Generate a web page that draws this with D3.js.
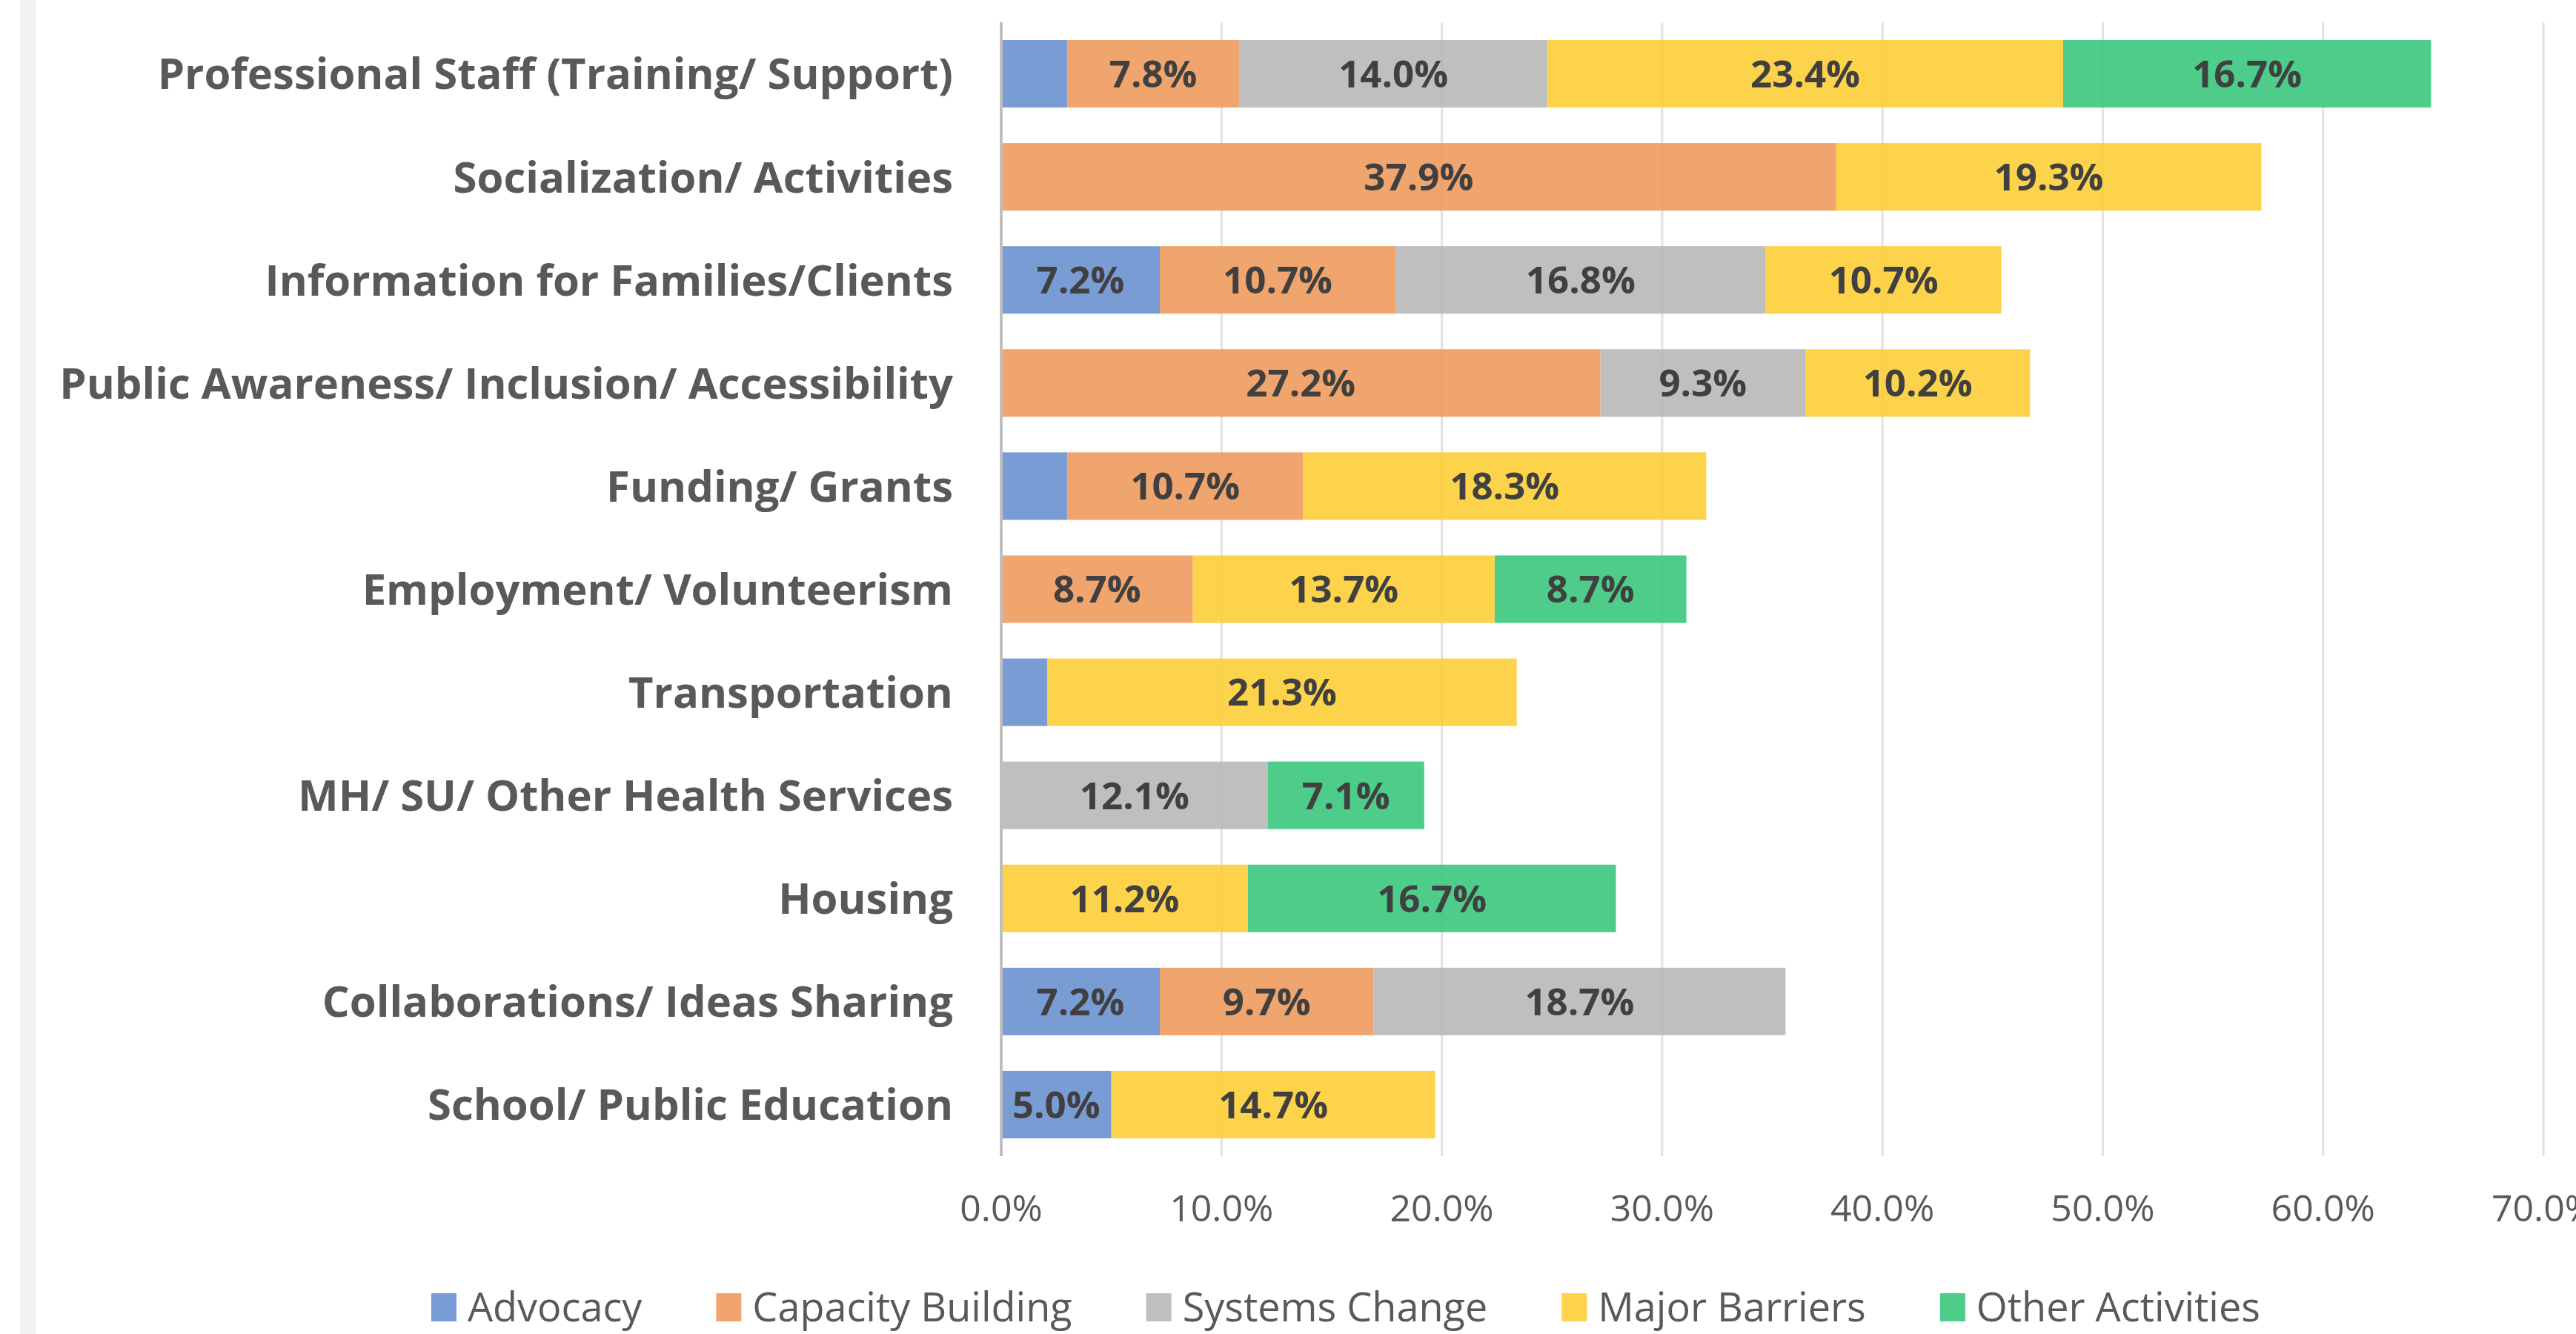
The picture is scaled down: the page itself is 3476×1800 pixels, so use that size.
<!DOCTYPE html>
<html>
<head>
<meta charset="utf-8">
<script src="https://cdn.jsdelivr.net/npm/d3@7"></script>
<style>
    html, body { margin: 0; padding: 0; background: #fff; }
    svg { display: block; }
</style>
</head>
<body>
<svg id="chart" width="3476" height="1800"></svg>
<script>
const categories = [
    "Professional Staff (Training/ Support)",
    "Socialization/ Activities",
    "Information for Families/Clients",
    "Public Awareness/ Inclusion/ Accessibility",
    "Funding/ Grants",
    "Employment/ Volunteerism",
    "Transportation",
    "MH/ SU/ Other Health Services",
    "Housing",
    "Collaborations/ Ideas Sharing",
    "School/ Public Education"
];
const seriesNames = ["Advocacy", "Capacity Building", "Systems Change", "Major Barriers", "Other Activities"];

// percentages, 0 where a row has no segment
const advocacy         = [3.0,  0,    7.2,  0,    3.0,  0,    2.1,  0,    0,    7.2,  5.0];
const capacityBuilding = [7.8,  37.9, 10.7, 27.2, 10.7, 8.7,  0,    0,    0,    9.7,  0];
const systemsChange    = [14.0, 0,    16.8, 9.3,  0,    0,    0,    12.1, 0,    18.7, 0];
const majorBarriers    = [23.4, 19.3, 10.7, 10.2, 18.3, 13.7, 21.3, 0,    11.2, 0,    14.7];
const otherActivities  = [16.7, 0,    0,    0,    0,    8.7,  0,    7.1,  16.7, 0,    0];

const xTicks = [0, 10, 20, 30, 40, 50, 60, 70];
const seriesColors = ["#6c91cf", "#ee9a5e", "#b8b8b8", "#fdce37", "#3ac67d"];

const FONT = "'Open Sans', Lato, sans-serif";
const plot = { left: 1351, right: 3432, top: 30, bottom: 1560 };

function buildRows() {
    const cols = [advocacy, capacityBuilding, systemsChange, majorBarriers, otherActivities];
    return categories.map((c, i) => {
        const row = { category: c };
        seriesNames.forEach((s, k) => { row[s] = cols[k][i]; });
        return row;
    });
}

function drawChart() {
    const svg = d3.select("#chart");
    const rows = buildRows();

    const x = d3.scaleLinear().domain([0, 70]).range([plot.left, plot.right]);
    const y = d3.scaleBand().domain(categories)
        .range([plot.top, plot.bottom])
        .paddingInner(0.345)
        .paddingOuter(0.1725);
    const color = d3.scaleOrdinal().domain(seriesNames).range(seriesColors);

    // grey strip at the left edge of the sheet
    svg.append("rect")
        .attr("x", 27).attr("y", 0)
        .attr("width", 22).attr("height", 1800)
        .attr("fill", "#f2f2f2");

    // vertical gridlines
    svg.append("g").selectAll("line")
        .data(xTicks.slice(1))
        .enter()
        .append("line")
        .attr("x1", d => x(d)).attr("x2", d => x(d))
        .attr("y1", plot.top).attr("y2", plot.bottom)
        .attr("stroke", "#e2e2e2")
        .attr("stroke-width", 3);

    const stacked = d3.stack().keys(seriesNames)(rows);

    const layer = svg.append("g").selectAll("g")
        .data(stacked)
        .enter()
        .append("g")
        .attr("fill", d => color(d.key))
        .attr("fill-opacity", 0.9);

    layer.selectAll("rect")
        .data(d => d.filter(p => p[1] - p[0] > 0))
        .enter()
        .append("rect")
        .attr("x", d => x(d[0]))
        .attr("y", d => y(d.data.category))
        .attr("width", d => x(d[1]) - x(d[0]))
        .attr("height", y.bandwidth());

    // data labels, small slivers stay unlabeled
    const labels = [];
    stacked.forEach(s => {
        s.forEach(p => {
            const v = p[1] - p[0];
            if (v >= 4) labels.push({ v: v, mid: (p[0] + p[1]) / 2, cat: p.data.category });
        });
    });
    svg.append("g").selectAll("text")
        .data(labels)
        .enter()
        .append("text")
        .attr("x", d => x(d.mid))
        .attr("y", d => y(d.cat) + y.bandwidth() / 2)
        .attr("dy", "0.36em")
        .attr("text-anchor", "middle")
        .attr("font-family", FONT)
        .attr("font-weight", "bold")
        .attr("font-size", "51px")
        .attr("fill", "#404040")
        .text(d => d.v.toFixed(1) + "%");

    // category axis line
    svg.append("line")
        .attr("x1", plot.left).attr("x2", plot.left)
        .attr("y1", plot.top).attr("y2", plot.bottom)
        .attr("stroke", "#bfbfbf")
        .attr("stroke-width", 4);

    svg.append("g").selectAll("text")
        .data(categories)
        .enter()
        .append("text")
        .attr("x", 1286)
        .attr("y", d => y(d) + y.bandwidth() / 2)
        .attr("dy", "0.36em")
        .attr("text-anchor", "end")
        .attr("font-family", FONT)
        .attr("font-weight", "bold")
        .attr("font-size", "58px")
        .attr("fill", "#595959")
        .text(d => d);

    // value axis tick labels
    svg.append("g").selectAll("text")
        .data(xTicks)
        .enter()
        .append("text")
        .attr("x", d => x(d))
        .attr("y", 1630)
        .attr("dy", "0.36em")
        .attr("text-anchor", "middle")
        .attr("font-family", FONT)
        .attr("font-size", "50px")
        .attr("fill", "#595959")
        .text(d => d3.format(".1f")(d) + "%");

    drawLegend(svg, color);
}

function drawLegend(svg, color) {
    const g = svg.append("g");
    const sw = 34, sh = 38, gap = 15, spacing = 100;
    const items = g.selectAll("g")
        .data(seriesNames)
        .enter()
        .append("g");

    items.append("rect")
        .attr("width", sw).attr("height", sh)
        .attr("y", -sh / 2)
        .attr("fill", d => color(d))
        .attr("fill-opacity", 0.9);

    items.append("text")
        .attr("x", sw + gap)
        .attr("dy", "0.36em")
        .attr("font-family", FONT)
        .attr("font-size", "54px")
        .attr("fill", "#595959")
        .text(d => d);

    let widths = [];
    items.each(function () {
        widths.push(sw + gap + d3.select(this).select("text").node().getComputedTextLength());
    });
    const total = d3.sum(widths) + spacing * (widths.length - 1);
    let cx = 1816 - total / 2;
    items.attr("transform", (d, i) => {
        const t = `translate(${cx},1764)`;
        cx += widths[i] + spacing;
        return t;
    });
}

drawChart();
</script>
</body>
</html>
